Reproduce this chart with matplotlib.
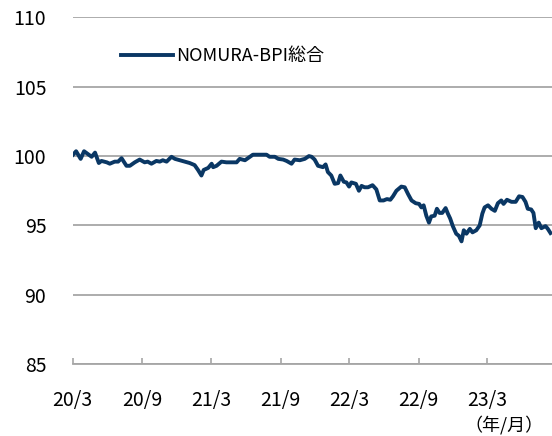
import matplotlib
matplotlib.use("Agg")
from matplotlib import pyplot as plt
import pandas as pd

plt.rcParams['font.family'] = ['Noto Sans CJK JP', 'DejaVu Sans']

# NOMURA-BPI総合 (2020/3 = 100)
dates = [
    "2020-03-02", "2020-03-10", "2020-03-22", "2020-03-31", "2020-04-10", "2020-04-20",
    "2020-04-29", "2020-05-09", "2020-05-16", "2020-05-30", "2020-06-07", "2020-06-20",
    "2020-06-29", "2020-07-08", "2020-07-21", "2020-07-30", "2020-08-12", "2020-08-25",
    "2020-09-07", "2020-09-15", "2020-09-25", "2020-10-08", "2020-10-17", "2020-10-25",
    "2020-11-04", "2020-11-17", "2020-11-26", "2020-12-09", "2020-12-22", "2021-01-04",
    "2021-01-17", "2021-01-26", "2021-02-04", "2021-02-10", "2021-02-22", "2021-03-03",
    "2021-03-07", "2021-03-16", "2021-03-29", "2021-04-11", "2021-04-29", "2021-05-08",
    "2021-05-16", "2021-05-30", "2021-06-07", "2021-06-20", "2021-07-08", "2021-07-26",
    "2021-08-03", "2021-08-17", "2021-08-26", "2021-09-08", "2021-09-17", "2021-09-30",
    "2021-10-08", "2021-10-22", "2021-11-04", "2021-11-15", "2021-11-22", "2021-11-30",
    "2021-12-09", "2021-12-22", "2021-12-29", "2022-01-04", "2022-01-13", "2022-01-22",
    "2022-01-31", "2022-02-06", "2022-02-15", "2022-02-22", "2022-03-01", "2022-03-07",
    "2022-03-19", "2022-03-27", "2022-04-03", "2022-04-11", "2022-04-20", "2022-05-02",
    "2022-05-12", "2022-05-21", "2022-05-31", "2022-06-09", "2022-06-18", "2022-06-25",
    "2022-07-04", "2022-07-17", "2022-07-26", "2022-08-04", "2022-08-13", "2022-08-24",
    "2022-09-02", "2022-09-08", "2022-09-14", "2022-09-21", "2022-09-28", "2022-10-04",
    "2022-10-13", "2022-10-19", "2022-10-26", "2022-11-02", "2022-11-11", "2022-11-17",
    "2022-11-23", "2022-11-30", "2022-12-09", "2022-12-16", "2022-12-23", "2022-12-29",
    "2023-01-05", "2023-01-14", "2023-01-21", "2023-01-31", "2023-02-09", "2023-02-16",
    "2023-02-22", "2023-03-03", "2023-03-12", "2023-03-21", "2023-03-29", "2023-04-07",
    "2023-04-13", "2023-04-22", "2023-05-04", "2023-05-15", "2023-05-24", "2023-06-02",
    "2023-06-10", "2023-06-16", "2023-06-25", "2023-07-01", "2023-07-07", "2023-07-15",
    "2023-07-22", "2023-08-02", "2023-08-08", "2023-08-15",
]
values = [
    100.1, 100.35, 99.8, 100.35, 100.15, 99.95,
    100.25, 99.5, 99.65, 99.55, 99.45, 99.6,
    99.6, 99.85, 99.3, 99.3, 99.55, 99.75,
    99.55, 99.6, 99.45, 99.65, 99.6, 99.7,
    99.6, 99.95, 99.8, 99.7, 99.6, 99.5,
    99.35, 99.0, 98.6, 99.0, 99.15, 99.45,
    99.2, 99.3, 99.6, 99.55, 99.55, 99.55,
    99.8, 99.7, 99.85, 100.1, 100.1, 100.1,
    99.95, 99.95, 99.8, 99.75, 99.65, 99.45,
    99.75, 99.7, 99.8, 100.0, 99.95, 99.75,
    99.3, 99.2, 99.4, 98.85, 98.6, 98.0,
    98.05, 98.6, 98.15, 98.1, 97.8, 98.1,
    98.0, 97.5, 97.85, 97.75, 97.75, 97.9,
    97.6, 96.8, 96.8, 96.9, 96.85, 97.1,
    97.5, 97.8, 97.75, 97.25, 96.8, 96.6,
    96.55, 96.3, 96.45, 95.7, 95.2, 95.65,
    95.7, 96.2, 95.9, 95.9, 96.25, 95.85,
    95.5, 94.95, 94.4, 94.25, 93.85, 94.65,
    94.4, 94.75, 94.5, 94.65, 95.0, 95.85,
    96.3, 96.45, 96.2, 96.05, 96.6, 96.8,
    96.55, 96.85, 96.7, 96.7, 97.1, 97.05,
    96.7, 96.2, 96.15, 95.9, 94.8, 95.2,
    94.8, 94.95, 94.75, 94.45,
]
x_ticks = ["2020-03-01", "2020-09-01", "2021-03-01", "2021-09-01",
           "2022-03-01", "2022-09-01", "2023-03-01"]
x_ticklabels = ["20/3", "20/9", "21/3", "21/9", "22/3", "22/9", "23/3"]
y_ticks = [85, 90, 95, 100, 105, 110]

grey = "#a6a6a6"
navy = "#0a3764"

fig = plt.figure(figsize=(5.52, 4.36), dpi=100)
ax = fig.add_axes([0.1317, 0.165, 0.8683, 0.795])

ax.plot(pd.to_datetime(dates), values, color=navy, lw=2.8,
        solid_joinstyle="round", label="NOMURA-BPI総合", zorder=3)

ax.set_ylim(85, 110)
ax.set_xlim(pd.Timestamp("2020-03-01"), pd.Timestamp("2023-08-19"))
ax.set_yticks(y_ticks)
ax.set_xticks(pd.to_datetime(x_ticks))
ax.set_xticklabels(x_ticklabels)

for s in ["left", "right", "top"]:
    ax.spines[s].set_visible(False)
ax.spines["bottom"].set_color(grey)
ax.spines["bottom"].set_linewidth(1.3)
ax.grid(axis="y", color=grey, lw=1.3)
ax.set_axisbelow(True)

ax.tick_params(axis="y", length=0, pad=19, labelsize=14)
ax.tick_params(axis="x", direction="in", length=4, width=1.2, color=grey,
               pad=19, labelsize=14)

ax.legend(loc="center left", bbox_to_anchor=(0.082, 0.888), frameon=False,
          borderpad=0, handlelength=2.9, handletextpad=0.15, fontsize=13)

fig.text(0.985, 0.026, "（年/月）", ha="right", va="center", fontsize=13)

fig.savefig("out.png", dpi=100)
